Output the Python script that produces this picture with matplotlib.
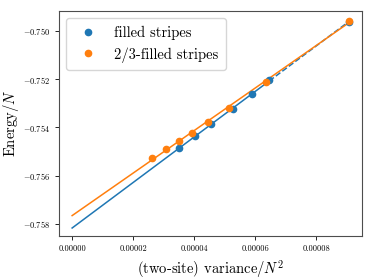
import numpy as np
import matplotlib
matplotlib.use("Agg")
import matplotlib.pyplot as plt

plt.rcParams['font.family'] = 'serif'
plt.rcParams['font.serif'] = ['cmr10']
plt.rcParams['mathtext.fontset'] = 'cm'
plt.rcParams['axes.formatter.use_mathtext'] = True

# filled stripes (blue): first six points used for the fit, last one only extrapolated
var_filled = [3.518e-5, 4.033e-5, 4.557e-5, 5.289e-5, 5.911e-5, 6.469e-5, 9.07e-5]
en_filled = [-0.75484, -0.75437, -0.75387, -0.75323, -0.75262, -0.75204, -0.74965]
n_fit_filled = 6

# 2/3-filled stripes (orange)
var_23 = [2.623e-5, 3.082e-5, 3.508e-5, 3.925e-5, 4.449e-5, 5.157e-5, 6.370e-5, 9.072e-5]
en_23 = [-0.75527, -0.75490, -0.75457, -0.75422, -0.75379, -0.75319, -0.75211, -0.74960]

blue = '#1f77b4'
orange = '#ff7f0e'

fig = plt.figure(figsize=(3.74, 2.8), dpi=100)
ax = fig.add_axes([0.157, 0.157, 0.811, 0.804])

# linear fits, extrapolated to zero variance
xb = np.array(var_filled[:n_fit_filled])
yb = np.array(en_filled[:n_fit_filled])
pb = np.polyfit(xb, yb, 1)
xs = np.array([0.0, xb[-1]])
ax.plot(xs, np.polyval(pb, xs), color=blue, lw=1.1)
xd = np.array([xb[-1], var_filled[-1]])
ax.plot(xd, np.polyval(pb, xd), color=blue, lw=1.1, ls='--')

xo = np.array(var_23)
yo = np.array(en_23)
po = np.polyfit(xo, yo, 1)
xs = np.array([0.0, xo[-1]])
ax.plot(xs, np.polyval(po, xs), color=orange, lw=1.1)

ax.plot(var_filled, en_filled, 'o', color=blue, ms=4.5, label='filled stripes')
ax.plot(var_23, en_23, 'o', color=orange, ms=4.5, label='2/3-filled stripes')

ax.set_xticks([0, 2e-5, 4e-5, 6e-5, 8e-5])
ax.set_xticklabels(['0.00000', '0.00002', '0.00004', '0.00006', '0.00008'])
ax.set_yticks([-0.750, -0.752, -0.754, -0.756, -0.758])
ax.set_yticklabels(['$-0.750$', '$-0.752$', '$-0.754$', '$-0.756$', '$-0.758$'])
ax.tick_params(labelsize=6, length=3, width=0.6)
ax.set_ylim(-0.7585, -0.74918)
ax.set_xlim(-4.4e-6, 9.51e-5)

for s in ax.spines.values():
    s.set_color('0.3')

ax.set_xlabel('(two-site) variance$/N^2$', fontsize=10.5, labelpad=3)
ax.set_ylabel('Energy$/N$', fontsize=10.5, labelpad=1)
ax.legend(loc='upper left', fontsize=10.5, handletextpad=0.8, borderpad=0.5)

fig.savefig('out.png', dpi=100)
